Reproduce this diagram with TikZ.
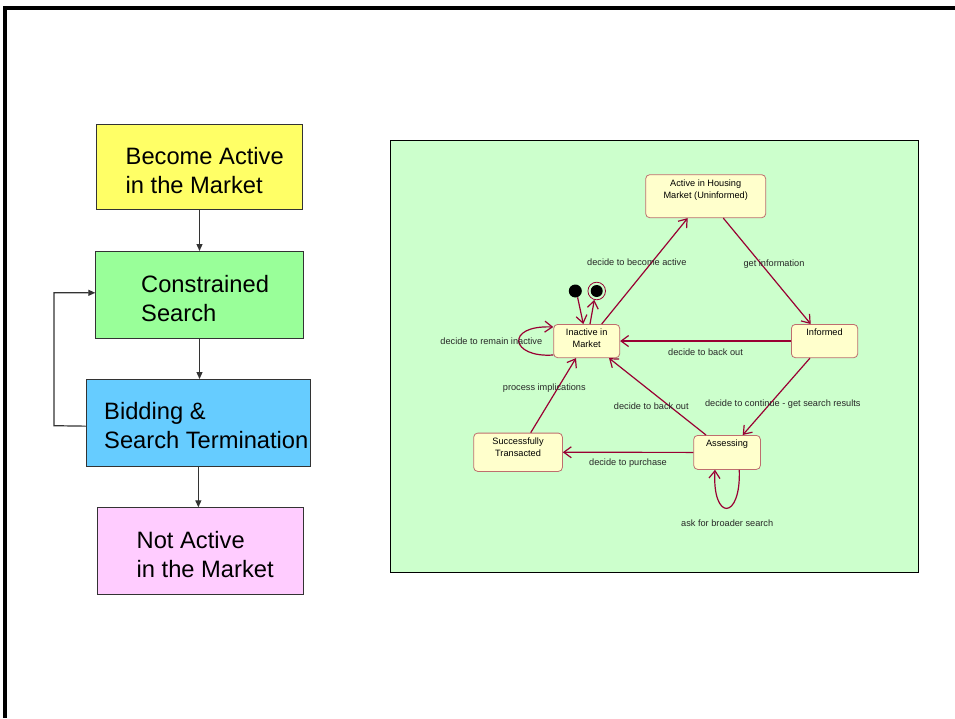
\documentclass[tikz,border=0pt]{standalone}
\usepackage{fontspec}
\setmainfont{Liberation Sans}
\usetikzlibrary{arrows.meta}

\definecolor{boxyellow}{RGB}{255,255,102}
\definecolor{boxgreen}{RGB}{153,255,153}
\definecolor{boxblue}{RGB}{102,204,255}
\definecolor{boxpink}{RGB}{255,204,255}
\definecolor{panelgreen}{RGB}{204,255,204}
\definecolor{statefill}{RGB}{255,255,204}
\definecolor{stateedge}{RGB}{190,110,110}
\definecolor{transred}{RGB}{153,0,51}
\definecolor{labelgray}{RGB}{40,40,40}

\tikzset{
  stagebox/.style={draw=black!80, line width=1pt, inner sep=0, anchor=north west},
  % multi-line text: the base anchor sits on the last line
  stagetext/.style={anchor=base west, align=left, inner sep=0,
    font=\fontsize{23.7}{28.6}\selectfont},
  flow/.style={draw=black!80, line width=1.2pt, -{Triangle[length=7pt,width=6pt]}},
  state/.style={draw=stateedge, fill=statefill, rounded corners=4pt,
    line width=0.8pt, anchor=north west, inner sep=0},
  statetext/.style={anchor=north, align=center, inner sep=0,
    font=\fontsize{9.2}{12.3}\selectfont},
  trans/.style={draw=transred, line width=1.2pt,
    -{Straight Barb[length=7.5pt,width=11pt]}},
  tlabel/.style={font=\fontsize{9.2}{11}\selectfont, text=labelgray, inner sep=0},
}

\begin{document}
\begin{tikzpicture}[x=1pt, y=-1pt]
\useasboundingbox (0,0) rectangle (955,718);
\fill[white] (0,0) rectangle (955,718);

% page frame
\draw[line width=4.2pt] (955,7.85) -| (5.3,718);

% ---- stage flow on the left ----
\node[stagebox, fill=boxyellow, minimum width=206.6pt, minimum height=85.3pt] (become) at (95.7,124) {};
\node[stagebox, fill=boxgreen, minimum width=207.4pt, minimum height=87pt] (constrained) at (95.3,251) {};
\node[stagebox, fill=boxblue, minimum width=224.3pt, minimum height=86.7pt] (bidding) at (85.7,379) {};
\node[stagebox, fill=boxpink, minimum width=206.6pt, minimum height=86.7pt] (notactive) at (96.7,507.3) {};

\node[stagetext] (become-t) at (125.5,193) {Become Active\\in the Market};
\node[stagetext] (constrained-t) at (141,321) {Constrained\\Search};
\node[stagetext] (bidding-t) at (104,448) {Bidding \&\\Search Termination};
\node[stagetext] (notactive-t) at (136.5,577.5) {Not Active\\in the Market};

\draw[flow] (become.south) -- (become.south |- constrained.north);
\draw[flow] (constrained.south) -- (constrained.south |- bidding.north);
\draw[flow] (bidding.south) -- (bidding.south |- notactive.north);
\coordinate (loopcorner) at (54,425.7);
\draw[flow] ([yshift=-3.3pt]bidding.west) -- (loopcorner) |- ([yshift=2.2pt]constrained.west);

% ---- state machine panel ----
\draw[black, line width=0.8pt, fill=panelgreen] (390,140.7) rectangle (918.3,572.3);

\node[state, minimum width=120pt, minimum height=43pt] (active) at (645.3,174.3) {};
\node[state, minimum width=66.3pt, minimum height=33.3pt] (informed) at (791,324) {};
\node[state, minimum width=66pt, minimum height=33.3pt] (inactive) at (553.3,324) {};
\node[state, minimum width=88.7pt, minimum height=38.3pt] (success) at (473.3,432.7) {};
\node[state, minimum width=66.7pt, minimum height=34pt] (assessing) at (693.3,435) {};

\node[statetext] (active-t) at ([yshift=-5pt]active.north) {Active in Housing\\Market (Uninformed)};
\node[statetext] (informed-t) at ([yshift=-4.6pt]informed.north) {Informed};
\node[statetext] (inactive-t) at ([yshift=-4.6pt]inactive.north) {Inactive in\\Market};
\node[statetext] (success-t) at ([yshift=-5pt]success.north) {Successfully\\Transacted};
\node[statetext] (assessing-t) at ([yshift=-5pt]assessing.north) {Assessing};

% initial and final pseudo-states
\node[circle, fill=black, minimum size=13pt, inner sep=0] (init) at (575.3,291) {};
\node[circle, fill=black, minimum size=12pt, inner sep=0] (final-core) at (596.7,291) {};
\node[circle, draw=transred, line width=0.8pt, minimum size=17.6pt, inner sep=0] (final) at (596.7,291) {};

% transitions
\draw[trans] (init.-70) -- ([xshift=30pt]inactive.north west);
\draw[trans] ([xshift=36.7pt]inactive.north west) -- (final.-105);
\draw[trans] ([xshift=48.4pt]inactive.north west) -- ([xshift=42.4pt]active.south west);
\draw[trans] ([xshift=78pt]active.south west) -- ([xshift=19.7pt]informed.north west);
\draw[trans] (informed.west) -- (inactive.east);
\draw[trans] ([xshift=19pt]informed.south west) -- ([xshift=49.4pt]assessing.north west);
\draw[trans] ([xshift=12.7pt]assessing.north west) -- ([xshift=55.7pt]inactive.south west);
\draw[trans] (assessing.west) -- (success.east);
\draw[trans] ([xshift=57.4pt]success.north west) -- ([xshift=22.7pt]inactive.south west);
\draw[trans] ([yshift=-31pt]inactive.north west) .. controls (510,358) and (505,325) .. ([yshift=-3pt]inactive.north west);
\draw[trans] ([xshift=46pt]assessing.south west) .. controls (741,521) and (712,521) .. ([xshift=21.7pt]assessing.south west);

% transition labels
\node[tlabel] (l-become) at (636.8,262.3) {decide to become active};
\node[tlabel] (l-info) at (774,264) {get information};
\node[tlabel] (l-remain) at (491.3,341.7) {decide to remain inactive};
\node[tlabel] (l-back1) at (705.5,352.3) {decide to back out};
\node[tlabel] (l-process) at (544.3,388.3) {process implications};
\node[tlabel] (l-back2) at (651.3,406) {decide to back out};
\node[tlabel] (l-continue) at (782.8,404.3) {decide to continue - get search results};
\node[tlabel] (l-purchase) at (628,463.3) {decide to purchase};
\node[tlabel] (l-broader) at (727.2,523.3) {ask for broader search};
\end{tikzpicture}
\end{document}
